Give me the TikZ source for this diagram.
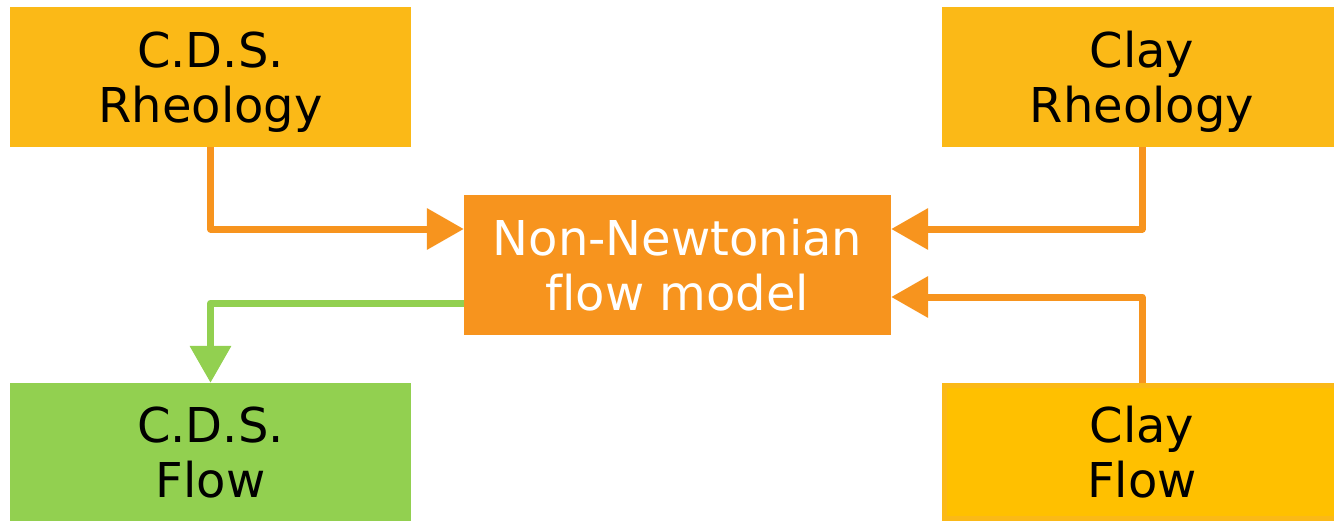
\documentclass[tikz,border=0pt]{standalone}
\usepackage{fontspec}
\setmainfont[Ligatures=NoCommon]{DejaVu Sans}
\usetikzlibrary{arrows.meta}

\definecolor{rheoyellow}{HTML}{FBB917}
\definecolor{flowyellow}{HTML}{FFC000}
\definecolor{modelorange}{HTML}{F7941E}
\definecolor{flowgreen}{HTML}{92D050}

\begin{document}
\begin{tikzpicture}[x=1pt, y=-1pt,
  box/.style={rectangle, inner sep=0pt, align=center, text depth=0pt,
    font=\fontsize{48}{55}\selectfont, minimum width=401pt, minimum height=140pt},
  feed/.style={draw=modelorange, line width=7pt, line join=round,
    -{Triangle[length=37pt, width=40pt]}}]
\useasboundingbox (0, 0) rectangle (1334, 522);
\node[box, fill=rheoyellow] (cdsrheo) at (210.5, 77) {C.D.S.\\Rheology};
\node[box, fill=rheoyellow, minimum width=400pt] (clayrheo) at (1142, 77) {Clay\\Rheology};
\node[box, fill=modelorange, text=white, minimum width=427pt] (model) at (677.5, 265) {Non-Newtonian\\flow model};
\node[box, fill=flowgreen, minimum height=138pt] (cdsflow) at (210.5, 452) {C.D.S.\\Flow};
\node[box, fill=flowyellow, draw=rheoyellow, line width=5pt, minimum width=395pt, minimum height=133pt] (clayflow) at (1142, 452) {Clay\\Flow};
\draw[feed] (cdsrheo.south) |- ([yshift=36pt]model.west);
\draw[feed] (clayrheo.south) |- ([yshift=36pt]model.east);
\draw[feed] (clayflow.north) |- ([yshift=-32pt]model.east);
\draw[feed, draw=flowgreen] ([yshift=-38pt]model.west) -| (cdsflow.north);
\end{tikzpicture}
\end{document}
